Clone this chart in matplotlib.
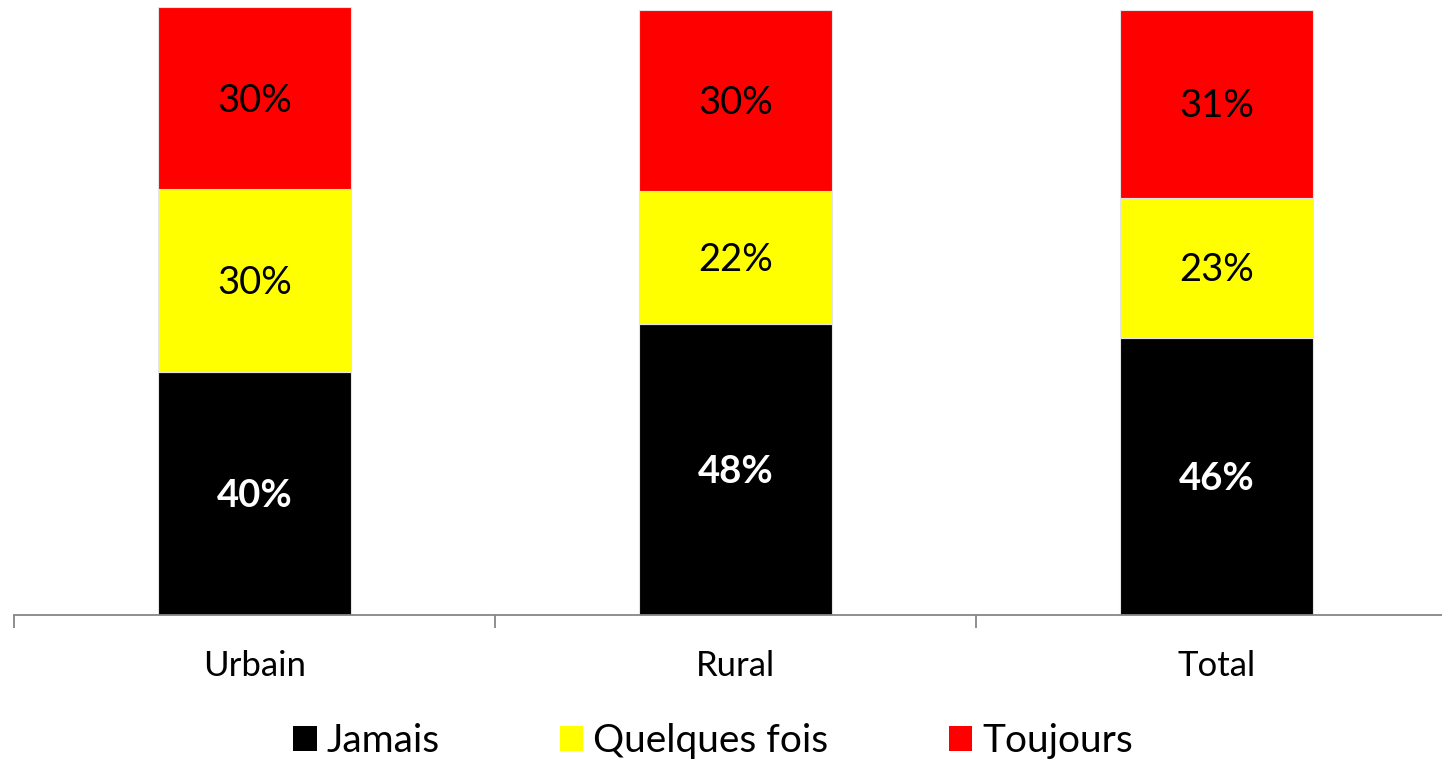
import matplotlib
matplotlib.use("Agg")
import matplotlib.pyplot as plt
import numpy as np

categories = ["Urbain", "Rural", "Total"]
series_names = ["Jamais", "Quelques fois", "Toujours"]
jamais = [40.0, 47.8, 45.6]
quelques = [30.0, 21.9, 23.0]
toujours = [30.0, 29.8, 30.9]
colors = ["#000000", "#FFFF00", "#FF0000"]
label_colors = ["white", "black", "black"]
label_weights = ["bold", "normal", "normal"]

plt.rcParams['font.family'] = ['Lato', 'DejaVu Sans']

W, H = 1442, 761
fig = plt.figure(figsize=(W / 100, H / 100), dpi=100)
left_px, right_px, top_px, base_px = 14, 14 + 3 * 481, 7, 615
ax = fig.add_axes([left_px / W, (H - base_px) / H, (right_px - left_px) / W, (base_px - top_px) / H])

x = np.arange(len(categories))
bottom = np.zeros(len(categories))
for name, vals, c, lc, lw in zip(series_names, [jamais, quelques, toujours], colors, label_colors, label_weights):
    vals = np.array(vals)
    ax.bar(x, vals, 0.4, bottom=bottom, color=c, label=name,
           edgecolor="#e4e4e4", linewidth=0.8, zorder=2)
    for xi, b, v in zip(x, bottom, vals):
        ax.text(xi, b + v / 2 - 0.4, f"{round(v):.0f}%", ha="center", va="center",
                color=lc, fontsize=27.5, fontweight=lw, zorder=3)
    bottom = bottom + vals

ax.set_xlim(-0.5, 2.5)
ax.set_ylim(0, 100)
for s in ["top", "right", "left"]:
    ax.spines[s].set_visible(False)
ax.spines["bottom"].set_color("#868686")
ax.spines["bottom"].set_linewidth(1.3)
ax.set_yticks([])
ax.set_xticks(x)
ax.set_xticklabels(categories, fontsize=25)
ax.tick_params(axis="x", which="major", length=0, pad=25)
ax.set_xticks([-0.5, 0.5, 1.5, 2.5], minor=True)
ax.tick_params(axis="x", which="minor", length=9, width=1.3, color="#868686", direction="out")

leg = fig.legend(loc="center", bbox_to_anchor=(0.4945, 1 - 741 / H), ncol=3, frameon=False,
                 fontsize=28, handlelength=0.6, handleheight=0.6, handletextpad=0.25,
                 columnspacing=3.1)
for h in leg.legend_handles:
    h.set_edgecolor("none")

fig.savefig("out.png", dpi=100)
